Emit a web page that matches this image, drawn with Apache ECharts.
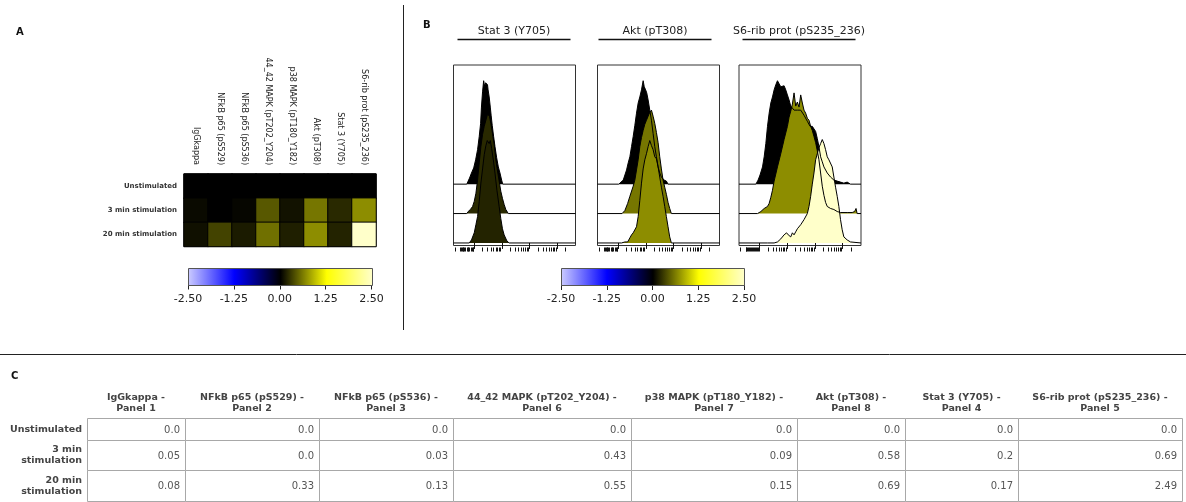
<!DOCTYPE html>
<html>
<head>
<meta charset="utf-8">
<title>Phospho-signaling overview</title>
<script src="https://cdn.jsdelivr.net/npm/echarts@6.0.0/dist/echarts.min.js"></script>
<style>
  html, body { margin: 0; padding: 0; background: #fff; }
  #chart { width: 1186px; height: 502px; }
</style>
</head>
<body>
<div id="chart"></div>
<script>
// ---- data ----
const markers = ['IgGkappa', 'NFkB p65 (pS529)', 'NFkB p65 (pS536)', '44_42 MAPK (pT202_Y204)',
  'p38 MAPK (pT180_Y182)', 'Akt (pT308)', 'Stat 3 (Y705)', 'S6-rib prot (pS235_236)'];
const panelNames = ['Panel 1', 'Panel 2', 'Panel 3', 'Panel 6', 'Panel 7', 'Panel 8', 'Panel 4', 'Panel 5'];
const conditions = ['Unstimulated', '3 min stimulation', '20 min stimulation'];
const unstimulated = [0.0, 0.0, 0.0, 0.0, 0.0, 0.0, 0.0, 0.0];
const stim3min = [0.05, 0.0, 0.03, 0.43, 0.09, 0.58, 0.2, 0.69];
const stim20min = [0.08, 0.33, 0.13, 0.55, 0.15, 0.69, 0.17, 2.49];

// colour scale (legend ticks and colours)
const scaleTicks = [-2.5, -1.25, 0, 1.25, 2.5];
const scaleColors = ['#ccccff', '#0000ff', '#000000', '#ffff00', '#ffffcc'];

// histogram overlays: [log10 intensity, % of mode]
const histMarkers = ['Stat 3 (Y705)', 'Akt (pT308)', 'S6-rib prot (pS235_236)'];
const stat3Unstim = [[0.73,0],[0.78,3],[0.83,6],[0.90,11],[0.98,16],[1.05,24],[1.12,34],[1.18,47],[1.23,60],[1.26,76],[1.30,91],[1.34,102],[1.36,99],[1.38,96],[1.41,100],[1.44,99],[1.48,98],[1.50,93],[1.54,86],[1.58,76],[1.61,68],[1.65,58],[1.70,47],[1.75,37],[1.81,26],[1.87,17],[1.93,11],[1.99,4],[2.03,0]];
const stat3Min3 = [[0.73,0],[0.78,2],[0.86,4],[0.94,7],[1.00,12],[1.06,20],[1.12,33],[1.18,50],[1.24,66],[1.30,78],[1.36,86],[1.42,92],[1.48,98],[1.52,99],[1.55,96],[1.60,89],[1.66,79],[1.72,68],[1.78,53],[1.84,42],[1.90,32],[1.96,22],[2.02,15],[2.08,9],[2.14,4],[2.23,0]];
const stat3Min20 = [[0.82,0],[0.90,3],[1.00,10],[1.06,18],[1.12,26],[1.18,41],[1.24,59],[1.30,73],[1.36,87],[1.42,96],[1.47,101],[1.50,102],[1.54,98],[1.58,101],[1.63,93],[1.69,82],[1.75,69],[1.82,52],[1.90,36],[1.96,24],[2.02,14],[2.08,8],[2.18,2],[2.26,0]];
const aktUnstim = [[1.02,0],[1.10,2],[1.18,4],[1.24,9],[1.30,14],[1.36,21],[1.42,27],[1.48,37],[1.54,47],[1.60,58],[1.66,70],[1.72,80],[1.78,86],[1.84,93],[1.90,102],[1.94,96],[1.99,93],[2.03,90],[2.08,83],[2.14,73],[2.20,63],[2.26,50],[2.32,37],[2.38,27],[2.44,17],[2.50,11],[2.56,7],[2.66,4],[2.74,3],[2.80,0]];
const aktMin3 = [[1.14,0],[1.24,3],[1.34,10],[1.42,17],[1.54,27],[1.60,33],[1.66,43],[1.72,53],[1.78,66],[1.84,75],[1.90,82],[1.96,88],[2.02,92],[2.08,96],[2.14,100],[2.20,102],[2.26,96],[2.32,89],[2.38,80],[2.44,70],[2.50,56],[2.56,44],[2.62,33],[2.68,26],[2.74,19],[2.80,11],[2.86,5],[2.92,0]];
const aktMin20 = [[1.12,0],[1.24,1],[1.34,1],[1.42,5],[1.48,8],[1.54,10],[1.60,11],[1.66,16],[1.72,26],[1.78,42],[1.84,59],[1.90,73],[1.96,82],[2.02,88],[2.08,95],[2.14,101],[2.20,96],[2.26,92],[2.32,85],[2.38,83],[2.44,75],[2.50,65],[2.56,55],[2.62,46],[2.68,36],[2.74,26],[2.80,16],[2.86,6],[2.92,0]];
const s6Unstim = [[0.86,0],[0.94,4],[1.01,9],[1.10,17],[1.16,27],[1.22,40],[1.28,57],[1.34,70],[1.40,80],[1.46,86],[1.52,93],[1.58,98],[1.64,102],[1.70,99],[1.76,96],[1.82,97],[1.88,97],[1.94,93],[2.00,88],[2.06,83],[2.12,77],[2.24,73],[2.36,73],[2.48,73],[2.60,68],[2.72,62],[2.82,57],[2.90,57],[2.96,57],[3.02,52],[3.08,45],[3.14,37],[3.20,27],[3.26,22],[3.32,17],[3.44,11],[3.56,7],[3.68,4],[3.80,3],[3.92,2],[4.04,1],[4.10,0],[4.16,2],[4.22,1],[4.28,0]];
const s6Min3 = [[0.92,0],[1.04,2],[1.16,5],[1.28,7],[1.34,10],[1.40,16],[1.46,23],[1.52,32],[1.64,46],[1.76,59],[1.88,73],[2.00,86],[2.06,95],[2.12,101],[2.18,108],[2.24,119],[2.30,106],[2.36,110],[2.42,105],[2.48,117],[2.54,109],[2.60,102],[2.66,99],[2.72,94],[2.78,92],[2.84,86],[2.90,82],[2.96,76],[3.02,70],[3.08,62],[3.14,53],[3.20,40],[3.26,27],[3.32,18],[3.38,11],[3.44,7],[3.56,5],[3.68,4],[3.80,2],[3.92,1],[4.16,1],[4.34,1],[4.43,2],[4.48,5],[4.52,0]];
const s6Min20 = [[1.28,0],[1.52,0],[1.64,1],[1.76,4],[1.88,8],[1.97,10],[2.03,8],[2.12,6],[2.18,10],[2.24,8],[2.30,11],[2.36,14],[2.48,18],[2.60,23],[2.72,29],[2.78,36],[2.84,46],[2.90,58],[2.96,69],[3.02,82],[3.08,88],[3.14,94],[3.20,98],[3.26,102],[3.32,98],[3.38,92],[3.44,85],[3.50,82],[3.56,82],[3.62,75],[3.68,65],[3.74,55],[3.80,46],[3.86,36],[3.92,23],[3.98,13],[4.04,6],[4.16,3],[4.28,1],[4.34,0]];
const histSets = [
  [stat3Unstim, stat3Min3, stat3Min20],
  [aktUnstim, aktMin3, aktMin20],
  [s6Unstim, s6Min3, s6Min20]
];

// histogram x axis ticks (biexponential display, log10 units)
const majorTicks = [1, 2, 3, 4];
const linearRegionTicks = [0.30, 0.50, 0.53, 0.56, 0.59, 0.62, 0.65, 0.68, 0.74, 0.77, 0.80, 0.83, 0.89, 0.92, 0.95, 0.98];
const decadeSteps = [0.301, 0.477, 0.602, 0.699, 0.778, 0.845, 0.903, 0.954];

// ---- layout ----
const FONT = '"DejaVu Sans", Verdana, sans-serif';
const HIST_X = [0.25, 4.66];
const HIST_LEFT = [453.5, 597.5, 739];
const HIST_ROW_OFFSET = [58, 29, 0];        // unstim on top, 20 min at bottom
const tableColEdges = [87, 185, 319, 453, 631, 797, 905, 1018, 1182];
const tableRowEdges = [418, 440, 470, 501];

function hexToRgb(h) {
  return [1, 3, 5].map(i => parseInt(h.slice(i, i + 2), 16));
}
// same colour mapping as the heatmap legend
function valueToColor(v) {
  const lo = scaleTicks[0], hi = scaleTicks[scaleTicks.length - 1];
  const t = Math.min(1, Math.max(0, (v - lo) / (hi - lo))) * (scaleColors.length - 1);
  const i = Math.min(scaleColors.length - 2, Math.floor(t));
  const a = hexToRgb(scaleColors[i]), b = hexToRgb(scaleColors[i + 1]);
  const f = t - i;
  return 'rgb(' + a.map((c, k) => Math.round(c + (b[k] - c) * f)).join(',') + ')';
}

const rowValues = [unstimulated, stim3min, stim20min];
const heatData = [];
rowValues.forEach((row, r) => row.forEach((v, c) => heatData.push([c, r, v])));

const minorTicks = linearRegionTicks.slice();
[1, 2, 3].forEach(d => decadeSteps.forEach(s => minorTicks.push(d + s)));
minorTicks.push(4 + decadeSteps[0]);

const gradient = new echarts.graphic.LinearGradient(0, 0, 1, 0,
  scaleColors.map((c, i) => ({ offset: i / (scaleColors.length - 1), color: c })));

function renderScaleBar(params, api) {
  const p0 = api.coord([api.value(0), 1]);
  const p1 = api.coord([api.value(1), 0]);
  return {
    type: 'rect',
    shape: { x: Math.round(p0[0]) + 0.5, y: Math.round(p0[1]) + 0.5,
      width: Math.round(p1[0] - p0[0]), height: Math.round(p1[1] - p0[1]) },
    style: { fill: gradient, stroke: '#555', lineWidth: 1 }
  };
}

function formatCell(v) {
  return Number.isInteger(v) ? v.toFixed(1) : String(v);
}

function renderTableCell(params, api) {
  const c = api.value(0), r = api.value(1), v = api.value(2);
  const tl = api.coord([tableColEdges[c], tableRowEdges[r]]);
  const br = api.coord([tableColEdges[c + 1], tableRowEdges[r + 1]]);
  return {
    type: 'group',
    children: [{
      type: 'rect',
      shape: { x: tl[0] + 0.5, y: tl[1] + 0.5, width: br[0] - tl[0], height: br[1] - tl[1] },
      style: { fill: '#fff', stroke: '#a8a8a8', lineWidth: 1 }
    }, {
      type: 'text',
      style: { text: formatCell(v), x: br[0] - 5, y: (tl[1] + br[1]) / 2 + 1,
        align: 'right', verticalAlign: 'middle', font: '10px ' + FONT, fill: '#555' }
    }]
  };
}

// ---- grids / axes ----
const grids = [
  { left: 184, top: 174, width: 192, height: 72.5, show: true, borderColor: '#333', borderWidth: 1 },
  { left: 188, top: 268, width: 183.5, height: 16.5 },
  ...HIST_LEFT.map(l => ({ left: l, top: 65, width: 122, height: 180.5, show: true,
    borderColor: '#333', borderWidth: 1, backgroundColor: '#fff' })),
  { left: 561, top: 268, width: 183, height: 17 },
  { left: 0, top: 0, width: 1186, height: 502 }
];

function scaleAxis(gridIndex) {
  return {
    type: 'value', gridIndex, min: scaleTicks[0], max: scaleTicks[scaleTicks.length - 1],
    interval: scaleTicks[1] - scaleTicks[0],
    axisLine: { show: false }, splitLine: { show: false },
    axisTick: { show: true, length: 5, lineStyle: { color: '#222' } },
    axisLabel: { formatter: v => v.toFixed(2), fontSize: 11, color: '#222', margin: 9, fontFamily: FONT,
      showMinLabel: true, showMaxLabel: true }
  };
}
function histAxis(gridIndex, ticks, len) {
  return {
    type: 'value', gridIndex, position: 'bottom', min: HIST_X[0], max: HIST_X[1], offset: 2,
    axisLine: { show: false }, splitLine: { show: false }, axisLabel: { show: false },
    axisTick: { show: true, length: len, customValues: ticks, lineStyle: { color: '#111', width: 1 } }
  };
}

const xAxes = [
  { type: 'category', gridIndex: 0, position: 'top', data: markers,
    axisLine: { show: false }, axisTick: { show: false },
    axisLabel: { rotate: 90, fontSize: 8, color: '#222', margin: 9, fontFamily: FONT, interval: 0 } },
  scaleAxis(1),
  histAxis(2, majorTicks, 6), histAxis(3, majorTicks, 6), histAxis(4, majorTicks, 6),
  histAxis(2, minorTicks, 4), histAxis(3, minorTicks, 4), histAxis(4, minorTicks, 4),
  scaleAxis(5),
  { type: 'value', gridIndex: 6, min: 0, max: 1186, show: false }
];
const yAxes = [
  { type: 'category', gridIndex: 0, data: conditions, inverse: true,
    axisLine: { show: false }, axisTick: { show: false },
    axisLabel: { fontSize: 7, fontWeight: 'bold', color: '#333', margin: 7, fontFamily: FONT } },
  { type: 'value', gridIndex: 1, min: 0, max: 1, show: false },
  ...[2, 3, 4].map(g => ({ type: 'value', gridIndex: g, min: -2.5, max: 175.5, show: false })),
  { type: 'value', gridIndex: 5, min: 0, max: 1, show: false },
  { type: 'value', gridIndex: 6, min: 0, max: 502, inverse: true, show: false }
];

// ---- series ----
const series = [{
  type: 'heatmap', xAxisIndex: 0, yAxisIndex: 0, data: heatData,
  itemStyle: { borderColor: '#000', borderWidth: 1 },
  emphasis: { disabled: true }, silent: true
}, {
  type: 'custom', xAxisIndex: 1, yAxisIndex: 1, renderItem: renderScaleBar,
  data: [[scaleTicks[0], scaleTicks[scaleTicks.length - 1]]], encode: { x: [0, 1] }, silent: true
}];

histMarkers.forEach((name, p) => {
  const mIdx = markers.indexOf(name);
  histSets[p].forEach((pts, r) => {
    const off = HIST_ROW_OFFSET[r];
    const full = [[HIST_X[0], 0], ...pts, [HIST_X[1], 0]];
    series.push({
      type: 'line', name: name + ' / ' + conditions[r],
      xAxisIndex: 2 + p, yAxisIndex: 2 + p,
      data: full.map(q => [q[0], q[1] + off]),
      symbol: 'none', smooth: false, silent: true,
      lineStyle: { color: '#000', width: 1 },
      areaStyle: { color: valueToColor(rowValues[r][mIdx]), opacity: 1, origin: off }
    });
  });
});

series.push({
  type: 'custom', xAxisIndex: 8, yAxisIndex: 5, renderItem: renderScaleBar,
  data: [[scaleTicks[0], scaleTicks[scaleTicks.length - 1]]], encode: { x: [0, 1] }, silent: true
});

const tableData = [];
rowValues.forEach((row, r) => row.forEach((v, c) => tableData.push([c, r, v])));
series.push({
  type: 'custom', xAxisIndex: 9, yAxisIndex: 6, renderItem: renderTableCell,
  data: tableData, encode: { x: 0, y: 1 }, silent: true, clip: false
});

// ---- text & rules ----
const graphic = [
  { type: 'text', left: 16, top: 27, style: { text: 'A', font: 'bold 10px ' + FONT, fill: '#111' } },
  { type: 'text', left: 423, top: 20, style: { text: 'B', font: 'bold 10px ' + FONT, fill: '#111' } },
  { type: 'text', left: 11, top: 371, style: { text: 'C', font: 'bold 10px ' + FONT, fill: '#111' } },
  { type: 'line', shape: { x1: 403.5, y1: 5, x2: 403.5, y2: 330 }, style: { stroke: '#222', lineWidth: 1 } },
  { type: 'line', shape: { x1: 0, y1: 354.5, x2: 1186, y2: 354.5 }, style: { stroke: '#222', lineWidth: 1 } }
];
const titleCenters = [514, 655, 799];
histMarkers.forEach((name, p) => {
  graphic.push({ type: 'text', x: titleCenters[p], y: 31,
    style: { text: name, font: '11px ' + FONT, fill: '#222', align: 'center', verticalAlign: 'middle' } });
  graphic.push({ type: 'line', shape: { x1: titleCenters[p] - 56.5, y1: 39.5, x2: titleCenters[p] + 56.5, y2: 39.5 },
    style: { stroke: '#111', lineWidth: 1.5 } });
});
markers.forEach((m, c) => {
  graphic.push({ type: 'text', x: (tableColEdges[c] + tableColEdges[c + 1]) / 2, y: 403,
    style: { text: m + ' -\n' + panelNames[c], font: 'bold 9.5px ' + FONT, fill: '#444',
      align: 'center', verticalAlign: 'middle', lineHeight: 11 } });
});
conditions.forEach((cnd, r) => {
  graphic.push({ type: 'text', x: 82, y: (tableRowEdges[r] + tableRowEdges[r + 1]) / 2 + 0.5,
    style: { text: cnd.replace(' stimulation', '\nstimulation'), font: 'bold 9.5px ' + FONT, fill: '#444',
      align: 'right', verticalAlign: 'middle', lineHeight: 11 } });
});

const chart = echarts.init(document.getElementById('chart'), null, { renderer: 'canvas' });
chart.setOption({
  backgroundColor: '#fff',
  animation: false,
  grid: grids,
  xAxis: xAxes,
  yAxis: yAxes,
  visualMap: {
    show: false, type: 'continuous', seriesIndex: 0,
    min: scaleTicks[0], max: scaleTicks[scaleTicks.length - 1],
    inRange: { color: scaleColors }
  },
  series,
  graphic
});
</script>
</body>
</html>
